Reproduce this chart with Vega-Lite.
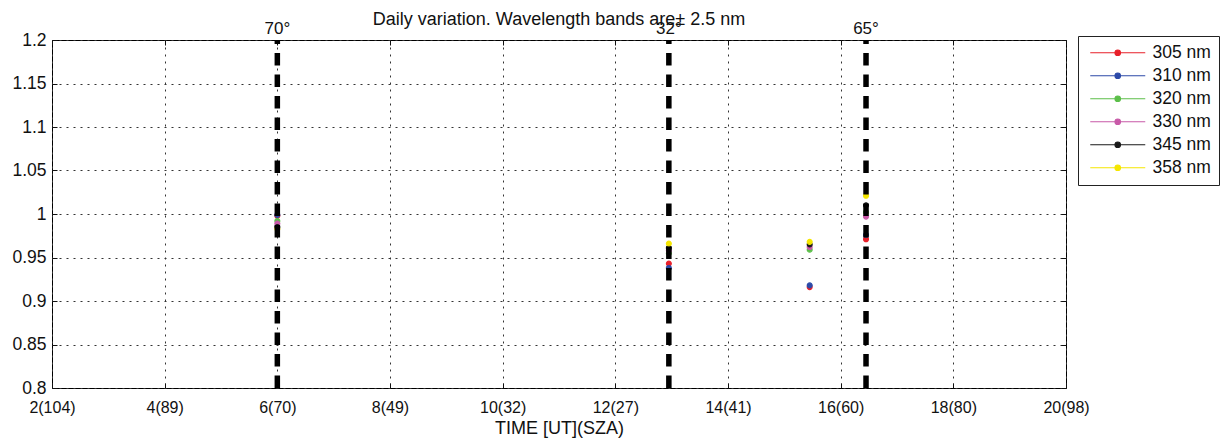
{
  "$schema": "https://vega.github.io/schema/vega-lite/v6.json",
  "width": 1014,
  "height": 348,
  "autosize": {"type": "none"},
  "padding": {"left": 52, "top": 40, "right": 159, "bottom": 53},
  "background": "white",
  "config": {
    "font": "Liberation Sans",
    "view": {"stroke": "black", "strokeWidth": 1},
    "axis": {
      "domain": false,
      "labelColor": "#111",
      "labelFont": "Liberation Sans",
      "labelFontSize": 16,
      "labelFlush": false,
      "titleFont": "Liberation Sans",
      "titleFontSize": 18,
      "titleFontWeight": "normal",
      "titleColor": "#111",
      "grid": true,
      "gridColor": "#333",
      "gridDash": [2, 5],
      "gridOpacity": 1,
      "gridWidth": 1,
      "tickColor": "#111",
      "tickSize": -5
    }
  },
  "title": {
    "text": "Daily variation. Wavelength bands are\u00b1 2.5 nm",
    "fontSize": 18,
    "fontWeight": "normal",
    "font": "Liberation Sans",
    "color": "#111",
    "anchor": "middle",
    "offset": -9
  },
  "resolve": {"axis": {"x": "independent", "y": "independent"}},
  "datasets": {
    "pts": [
      {"band": "305 nm", "time": 6.0, "ratio": 0.998},
      {"band": "310 nm", "time": 6.0, "ratio": 0.999},
      {"band": "320 nm", "time": 6.0, "ratio": 0.992},
      {"band": "330 nm", "time": 6.0, "ratio": 0.989},
      {"band": "345 nm", "time": 6.0, "ratio": 0.985},
      {"band": "358 nm", "time": 6.0, "ratio": 0.983},
      {"band": "305 nm", "time": 12.95, "ratio": 0.943},
      {"band": "310 nm", "time": 12.95, "ratio": 0.938},
      {"band": "320 nm", "time": 12.95, "ratio": 0.955},
      {"band": "330 nm", "time": 12.95, "ratio": 0.958},
      {"band": "345 nm", "time": 12.95, "ratio": 0.961},
      {"band": "358 nm", "time": 12.95, "ratio": 0.966},
      {"band": "305 nm", "time": 15.45, "ratio": 0.916},
      {"band": "310 nm", "time": 15.45, "ratio": 0.918},
      {"band": "320 nm", "time": 15.45, "ratio": 0.959},
      {"band": "330 nm", "time": 15.45, "ratio": 0.962},
      {"band": "345 nm", "time": 15.45, "ratio": 0.965},
      {"band": "358 nm", "time": 15.45, "ratio": 0.968},
      {"band": "305 nm", "time": 16.45, "ratio": 0.971},
      {"band": "310 nm", "time": 16.45, "ratio": 0.976},
      {"band": "320 nm", "time": 16.45, "ratio": 1.002},
      {"band": "330 nm", "time": 16.45, "ratio": 0.997},
      {"band": "345 nm", "time": 16.45, "ratio": 1.01},
      {"band": "358 nm", "time": 16.45, "ratio": 1.021}
    ],
    "sza": [
      {"time": 6.0, "label": "70\u00b0", "top": 1.2},
      {"time": 12.95, "label": "32\u00b0", "top": 1.2},
      {"time": 16.45, "label": "65\u00b0", "top": 1.2}
    ]
  },
  "layer": [
    {
      "data": {"name": "pts"},
      "mark": {"type": "point", "filled": true, "size": 24, "opacity": 1, "strokeWidth": 1.2},
      "encoding": {
        "x": {
          "field": "time",
          "type": "quantitative",
          "scale": {"domain": [2, 20], "nice": false, "zero": false},
          "axis": {
            "values": [2, 4, 6, 8, 10, 12, 14, 16, 18, 20],
            "labelExpr": "['2(104)','4(89)','6(70)','8(49)','10(32)','12(27)','14(41)','16(60)','18(80)','20(98)'][(datum.value-2)/2]",
            "labelPadding": 16,
            "title": "TIME [UT](SZA)",
            "titlePadding": 4
          }
        },
        "y": {
          "field": "ratio",
          "type": "quantitative",
          "scale": {"domain": [0.8, 1.2], "nice": false, "zero": false},
          "axis": {
            "values": [0.8, 0.85, 0.9, 0.95, 1, 1.05, 1.1, 1.15, 1.2],
            "format": ".2~f",
            "labelFontSize": 17.5,
            "labelPadding": 11,
            "title": null
          }
        },
        "fill": {
          "field": "band",
          "type": "nominal",
          "scale": {
            "domain": ["305 nm", "310 nm", "320 nm", "330 nm", "345 nm", "358 nm"],
            "range": ["#e8202a", "#2c4aa8", "#5cbf4a", "#c85aa8", "#1a1a1a", "#f5e600"]
          },
          "legend": {
            "orient": "none",
            "legendX": 1026,
            "legendY": -4,
            "title": null,
            "strokeColor": "#222",
            "fillColor": "white",
            "padding": 8,
            "symbolType": "M-5,0H5M-0.5,0A0.5,0.5 0 1,0 0.5,0A0.5,0.5 0 1,0 -0.5,0",
            "symbolSize": 121,
            "symbolOffset": 23,
            "symbolStrokeWidth": 1.2,
            "labelOffset": 26,
            "labelFont": "Liberation Sans",
            "labelFontSize": 17.5,
            "labelColor": "#111",
            "rowPadding": 4
          }
        },
        "stroke": {
          "field": "band",
          "type": "nominal",
          "scale": {
            "domain": ["305 nm", "310 nm", "320 nm", "330 nm", "345 nm", "358 nm"],
            "range": ["#e8202a", "#2c4aa8", "#5cbf4a", "#c85aa8", "#1a1a1a", "#f5e600"]
          },
          "legend": {
            "orient": "none",
            "legendX": 1026,
            "legendY": -4,
            "title": null,
            "strokeColor": "#222",
            "fillColor": "white",
            "padding": 8,
            "symbolType": "M-5,0H5M-0.5,0A0.5,0.5 0 1,0 0.5,0A0.5,0.5 0 1,0 -0.5,0",
            "symbolSize": 121,
            "symbolOffset": 23,
            "symbolStrokeWidth": 1.2,
            "labelOffset": 26,
            "labelFont": "Liberation Sans",
            "labelFontSize": 17.5,
            "labelColor": "#111",
            "rowPadding": 4
          }
        }
      }
    },
    {
      "data": {"name": "sza"},
      "mark": {"type": "rule", "color": "black", "strokeWidth": 5.5, "strokeDash": [12.5, 9], "strokeDashOffset": 8.5},
      "encoding": {
        "x": {
          "field": "time",
          "type": "quantitative",
          "axis": {
            "orient": "top",
            "values": [2, 4, 6, 8, 10, 12, 14, 16, 18, 20],
            "labels": false,
            "grid": false,
            "title": null
          }
        }
      }
    },
    {
      "data": {"name": "sza"},
      "mark": {"type": "text", "baseline": "bottom", "align": "center", "dy": -2, "fontSize": 17, "font": "Liberation Sans", "color": "#111"},
      "encoding": {
        "x": {"field": "time", "type": "quantitative", "axis": null},
        "y": {
          "field": "top",
          "type": "quantitative",
          "axis": {
            "orient": "right",
            "values": [0.8, 0.85, 0.9, 0.95, 1, 1.05, 1.1, 1.15, 1.2],
            "labels": false,
            "grid": false,
            "title": null
          }
        },
        "text": {"field": "label"}
      }
    }
  ]
}
